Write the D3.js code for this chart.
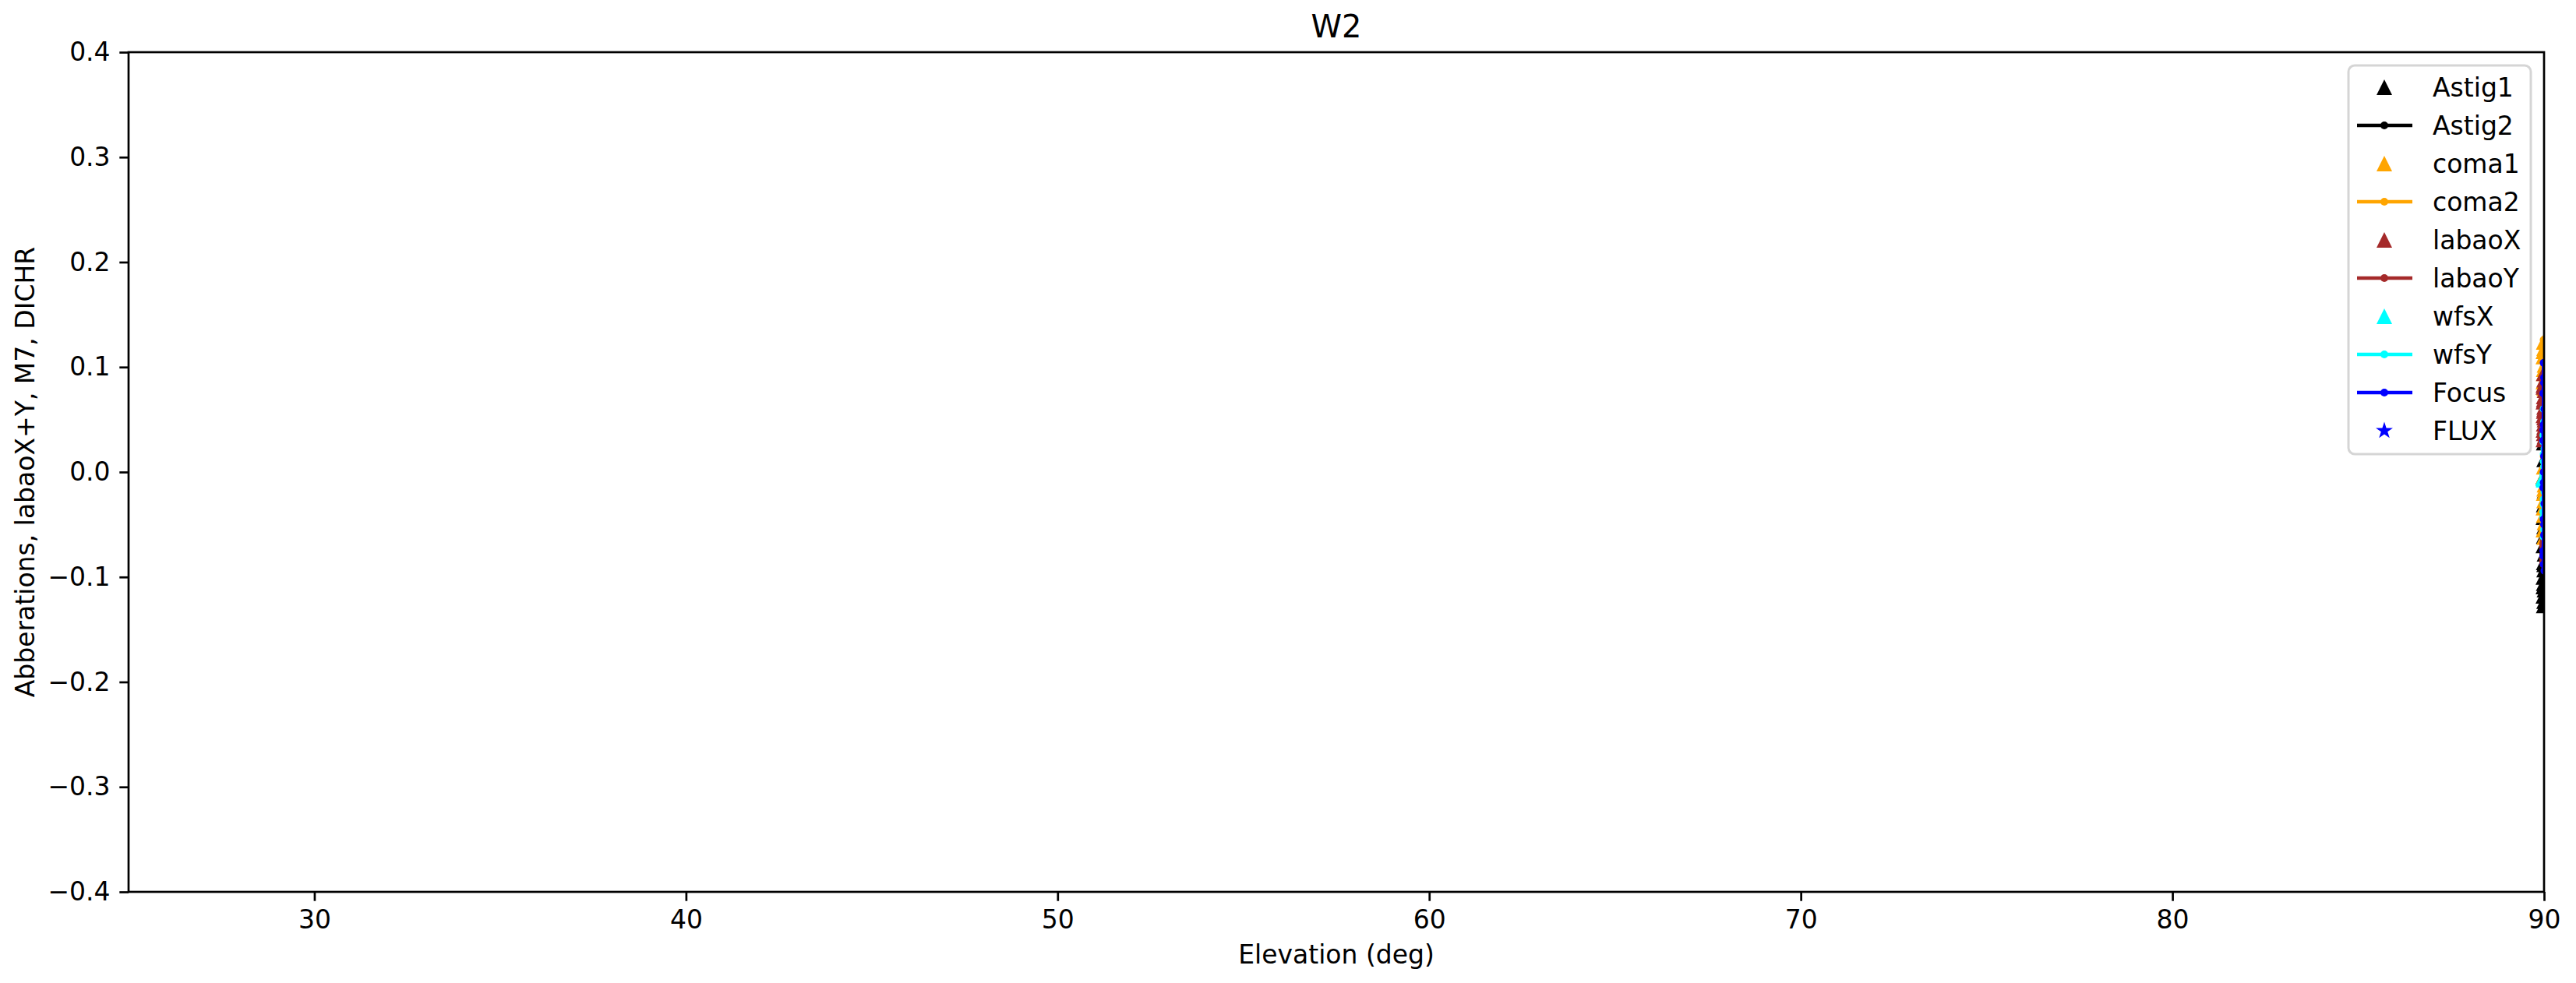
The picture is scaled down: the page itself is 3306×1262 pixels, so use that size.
<!DOCTYPE html>
<html>
<head>
<meta charset="utf-8">
<script src="https://cdn.jsdelivr.net/npm/d3@7"></script>
<style>
  html, body { margin: 0; padding: 0; background: #fff; }
  svg { display: block; }
  text { font-family: "DejaVu Sans", sans-serif; fill: #000; }
</style>
</head>
<body>
<svg id="chart" width="3306" height="1262"></svg>
<script>
// ---------------- DATA ----------------
const xTicks = [30, 40, 50, 60, 70, 80, 90];
const yTicks = [-0.4, -0.3, -0.2, -0.1, 0.0, 0.1, 0.2, 0.3, 0.4];

const elevation = [89.99, 90.00, 89.98, 90.01, 89.99, 89.98, 90.00, 89.99, 89.98, 90.01,
                   89.99, 90.00, 89.98, 89.99, 90.01, 89.98, 90.00, 89.99, 89.98, 90.00];

const astig1 = [0.028, 0.012, -0.004, -0.018, -0.031, -0.043, -0.052, -0.061, -0.070, -0.078,
                -0.086, -0.093, -0.100, -0.106, -0.112, -0.118, -0.123, -0.127, -0.109, -0.088];
const astig2 = [-0.045, -0.062, -0.078, -0.090, -0.101, -0.110, -0.096, -0.083, -0.071, -0.058,
                -0.050, -0.066, -0.081, -0.094, -0.105, -0.099, -0.087, -0.074, -0.060, -0.053];
const coma1  = [0.124, 0.118, 0.110, 0.102, 0.094, 0.086, 0.080, 0.005, -0.004, -0.012,
                -0.020, -0.027, -0.034, -0.041, -0.048, -0.055, -0.062, 0.098, 0.115, -0.016];
const coma2  = [0.126, 0.121, 0.115, 0.108, 0.100, 0.090, 0.078, 0.062, 0.045, 0.030,
                0.015, 0.002, -0.010, -0.022, -0.033, -0.044, -0.052, -0.040, -0.025, -0.008];
const labaoX = [0.094, 0.088, 0.083, 0.078, 0.072, 0.067, 0.062, 0.058, 0.054, 0.050,
                0.046, 0.043, 0.040, 0.037, 0.034, 0.031, 0.052, 0.069, 0.081, 0.060];
const labaoY = [-0.062, -0.066, -0.070, -0.074, -0.078, -0.082, -0.085, -0.088, -0.084, -0.079,
                -0.075, -0.071, -0.068, -0.064, -0.067, -0.072, -0.077, -0.081, -0.086, -0.083];
const wfsX   = [-0.006, -0.006, -0.007, -0.006, -0.005, -0.006, -0.007, -0.006, -0.005, -0.006,
                -0.006, -0.007, -0.006, -0.005, -0.006, -0.006, -0.007, -0.006, -0.005, -0.006];
const wfsY   = [0.060, 0.048, 0.035, 0.022, 0.010, -0.002, -0.014, -0.026, -0.038, -0.050,
                -0.062, -0.055, -0.043, -0.031, -0.019, -0.007, 0.005, 0.017, 0.029, 0.041];
const focus  = [0.104, 0.090, 0.075, 0.060, 0.045, 0.030, 0.015, 0.000, -0.015, -0.030,
                -0.045, -0.060, -0.075, -0.088, -0.094, -0.080, -0.050, -0.010, 0.040, 0.085];
const flux   = [0.62, 0.64, 0.61, 0.66, 0.63, 0.65, 0.62, 0.64, 0.60, 0.63,
                0.65, 0.61, 0.64, 0.62, 0.66, 0.63, 0.61, 0.64, 0.62, 0.65];

const seriesNames  = ["Astig1", "Astig2", "coma1", "coma2", "labaoX", "labaoY", "wfsX", "wfsY", "Focus", "FLUX"];
const seriesValues = [astig1, astig2, coma1, coma2, labaoX, labaoY, wfsX, wfsY, focus, flux];
const seriesColors = ["#000000", "#000000", "#FFA500", "#FFA500", "#A52A2A", "#A52A2A", "#00FFFF", "#00FFFF", "#0000FF", "#0000FF"];
const seriesKinds  = ["tri", "line", "tri", "line", "tri", "line", "tri", "line", "line", "star"];

// ---------------- DRAW ----------------
(function () {
  const pL = 165, pR = 3265, pT = 67, pB = 1145;
  const svg = d3.select("#chart");

  const x = d3.scaleLinear().domain([25, 90]).range([pL, pR]);
  const y = d3.scaleLinear().domain([-0.4, 0.4]).range([pB, pT]);

  svg.append("defs").append("clipPath").attr("id", "plotclip")
    .append("rect").attr("x", pL).attr("y", pT).attr("width", pR - pL).attr("height", pB - pT);

  const triPath = "M0,-10L-10,10L10,10Z";
  const starPath = d3.symbol().type(d3.symbolStar).size(150)();

  const plot = svg.append("g").attr("clip-path", "url(#plotclip)");

  seriesNames.forEach((name, i) => {
    const vals = seriesValues[i];
    const pts = vals.map((v, j) => [elevation[j], v]);
    const col = seriesColors[i];
    const g = plot.append("g").attr("class", "series-" + name);
    if (seriesKinds[i] === "line") {
      g.append("path")
        .datum(pts)
        .attr("fill", "none")
        .attr("stroke", col)
        .attr("stroke-width", 5)
        .attr("stroke-linejoin", "round")
        .attr("d", d3.line().x(d => x(d[0])).y(d => y(d[1])));
      g.selectAll("circle").data(pts).join("circle")
        .attr("cx", d => x(d[0])).attr("cy", d => y(d[1])).attr("r", 5).attr("fill", col);
    } else if (seriesKinds[i] === "tri") {
      g.selectAll("path").data(pts).join("path")
        .attr("d", triPath)
        .attr("transform", d => `translate(${x(d[0])},${y(d[1])})`)
        .attr("fill", col);
    } else {
      g.selectAll("path").data(pts).join("path")
        .attr("d", starPath)
        .attr("transform", d => `translate(${x(d[0])},${y(d[1])})`)
        .attr("fill", col);
    }
  });

  // axes
  const fmtY = d3.format(".1f");
  const xAxis = d3.axisBottom(x).tickValues(xTicks).tickFormat(d3.format("d")).tickSize(11.7).tickPadding(11.7);
  const yAxis = d3.axisLeft(y).tickValues(yTicks).tickFormat(fmtY).tickSize(11.7).tickPadding(11.7);

  const gx = svg.append("g").attr("transform", `translate(0,${pB})`).call(xAxis);
  const gy = svg.append("g").attr("transform", `translate(${pL},0)`).call(yAxis);
  [gx, gy].forEach(g => {
    g.select(".domain").remove();
    g.selectAll(".tick line").attr("stroke", "#000").attr("stroke-width", 2.7);
    g.selectAll(".tick text").attr("font-size", 33).attr("font-family", "DejaVu Sans").attr("fill", "#000");
  });

  // spines
  svg.append("rect")
    .attr("x", pL).attr("y", pT).attr("width", pR - pL).attr("height", pB - pT)
    .attr("fill", "none").attr("stroke", "#000").attr("stroke-width", 2.7);

  // title & labels
  svg.append("text").attr("x", (pL + pR) / 2).attr("y", 48)
    .attr("text-anchor", "middle").attr("font-size", 40).text("W2");
  svg.append("text").attr("x", (pL + pR) / 2).attr("y", 1237)
    .attr("text-anchor", "middle").attr("font-size", 33).text("Elevation (deg)");
  svg.append("text")
    .attr("transform", `translate(44,${(pT + pB) / 2}) rotate(-90)`)
    .attr("text-anchor", "middle").attr("font-size", 33)
    .text("Abberations, labaoX+Y, M7, DICHR");

  // legend
  const leg = svg.append("g");
  leg.append("rect")
    .attr("x", 3014).attr("y", 84).attr("width", 234).attr("height", 499)
    .attr("rx", 8).attr("ry", 8)
    .attr("fill", "rgba(255,255,255,0.8)").attr("stroke", "#d5d5d5").attr("stroke-width", 3);

  seriesNames.forEach((name, i) => {
    const cy = 112 + i * 49;
    const col = seriesColors[i];
    const row = leg.append("g");
    if (seriesKinds[i] === "line") {
      row.append("line").attr("x1", 3025).attr("x2", 3096).attr("y1", cy).attr("y2", cy)
        .attr("stroke", col).attr("stroke-width", 4.5);
      row.append("circle").attr("cx", 3060).attr("cy", cy).attr("r", 5).attr("fill", col);
    } else if (seriesKinds[i] === "tri") {
      row.append("path").attr("d", triPath).attr("transform", `translate(3060,${cy})`).attr("fill", col);
    } else {
      row.append("path").attr("d", starPath).attr("transform", `translate(3060,${cy})`).attr("fill", col);
    }
    row.append("text").attr("x", 3122).attr("y", cy + 12).attr("font-size", 33).text(name);
  });
})();
</script>
</body>
</html>
